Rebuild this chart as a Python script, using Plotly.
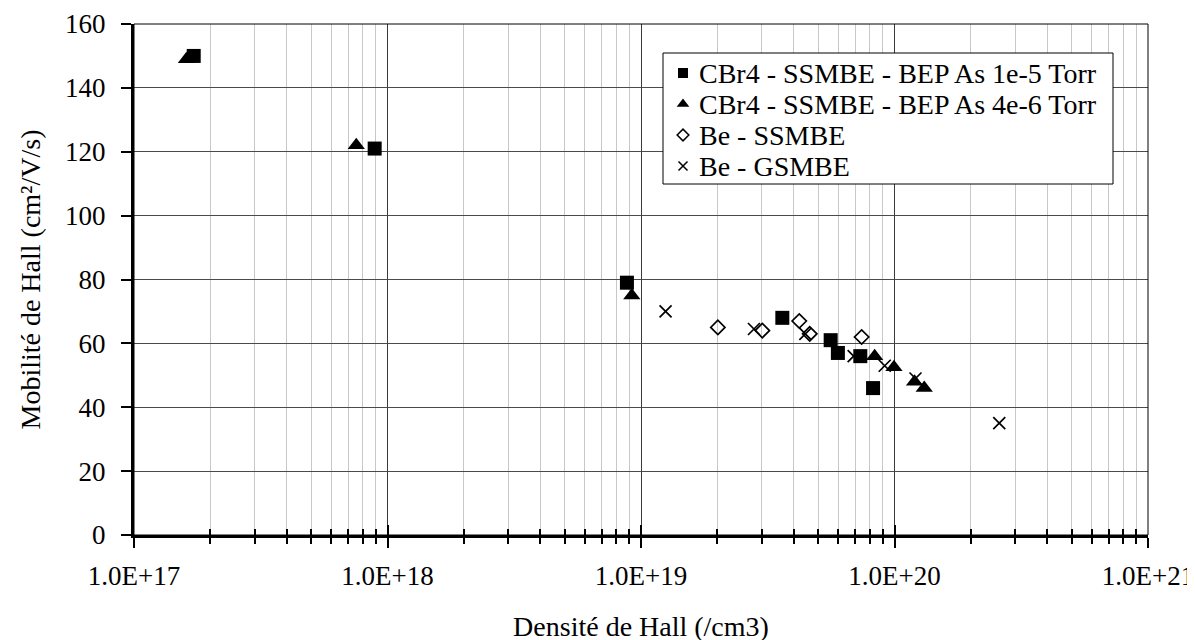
import plotly.graph_objects as go

# ---- data ----
sq_x = [1.72e17, 8.9e17, 8.8e18, 3.61e19, 5.6e19, 5.98e19, 7.33e19, 8.23e19]
sq_y = [150, 121, 79, 68, 61, 57, 56, 46]

tri_x = [1.61e17, 7.53e17, 9.2e18, 8.35e19, 9.95e19, 1.2e20, 1.31e20]
tri_y = [149, 122, 75, 56, 52.5, 48, 46]

dia_x = [2.01e19, 3.01e19, 4.21e19, 4.63e19, 7.42e19]
dia_y = [65, 64, 67, 63, 62]

x_x = [1.25e19, 2.79e19, 4.45e19, 6.9e19, 9.15e19, 1.21e20, 2.59e20]
x_y = [70, 64.5, 63, 56, 53, 49, 35]

names = ["CBr4 - SSMBE - BEP As 1e-5 Torr",
         "CBr4 - SSMBE - BEP As 4e-6 Torr",
         "Be - SSMBE",
         "Be - GSMBE"]

x_tickvals = [1e17, 1e18, 1e19, 1e20, 1e21]
x_ticktext = ["1.0E+17", "1.0E+18", "1.0E+19", "1.0E+20", "1.0E+21"]
y_tickvals = [0, 20, 40, 60, 80, 100, 120, 140, 160]

minor_vals = [float(m) * 10.0 ** e for e in range(17, 21) for m in range(2, 10)]

FONT = "Liberation Serif"
W, H = 1195, 640
L, R, T, B = 126, 55, 16, 113

fig = go.Figure()

symbols = ["square", "triangle-up", "diamond-open", "x-thin-open"]
plot_sizes = [14, 15, 11, 12]
legend_sizes = [10, 11, 9, 9]
datasets = [(sq_x, sq_y), (tri_x, tri_y), (dia_x, dia_y), (x_x, x_y)]


def marker(sym, size, lw):
    m = dict(symbol=sym, size=size, color="black")
    if sym.endswith("open"):
        m["line"] = dict(width=lw, color="black")
    return m


for (xs, ys), nm, sym, sz in zip(datasets, names, symbols, plot_sizes):
    fig.add_trace(go.Scatter(x=xs, y=ys, mode="markers", marker=marker(sym, sz, 1.7),
                             name=nm, showlegend=False, xaxis="x", yaxis="y"))

# ---- hand-drawn legend box (pixel-like auxiliary axes) ----
leg_left, leg_right, leg_top, leg_bottom = 655, 1105, 45, 176
row0, row_step = 65, 31
sym_x, text_x = 675, 689
rows = [row0 + row_step * i for i in range(len(names))]

for nm, sym, sz, ry in zip(names, symbols, legend_sizes, rows):
    fig.add_trace(go.Scatter(x=[sym_x], y=[ry], mode="markers",
                             marker=marker(sym, sz, 1.5), name=nm,
                             showlegend=False, hoverinfo="skip",
                             xaxis="x3", yaxis="y3"))

annotations = [dict(xref="x3", yref="y3", x=text_x, y=ry, text=nm,
                    xanchor="left", yanchor="middle", showarrow=False,
                    font=dict(family=FONT, size=28, color="black"))
               for nm, ry in zip(names, rows)]

shapes = [
    dict(type="rect", xref="paper", yref="paper", x0=0, y0=0, x1=1, y1=1,
         line=dict(color="black", width=1), layer="above"),
    dict(type="rect", xref="x3", yref="y3", x0=leg_left, x1=leg_right,
         y0=leg_top, y1=leg_bottom, fillcolor="white",
         line=dict(color="black", width=1), layer="below"),
]

fig.update_layout(
    width=W, height=H,
    margin=dict(l=L, r=R, t=T, b=B),
    paper_bgcolor="white", plot_bgcolor="rgba(0,0,0,0)",
    font=dict(family=FONT, size=27, color="black"),
    showlegend=False,
    xaxis=dict(
        type="log", range=[17, 21], automargin=False,
        tickmode="array", tickvals=x_tickvals, ticktext=x_ticktext,
        ticks="outside", ticklen=10, tickwidth=2, tickcolor="black",
        ticklabelstandoff=5,
        showline=True, linewidth=3, linecolor="black",
        showgrid=True, gridcolor="#3a3a3a", gridwidth=1,
        zeroline=False,
        minor=dict(tickmode="array", tickvals=minor_vals, ticks="outside",
                   ticklen=6, tickwidth=2, tickcolor="black",
                   showgrid=True, gridcolor="#c8c8c8", gridwidth=1),
        title=dict(text="Densité de Hall (/cm3)", font=dict(size=28), standoff=26),
        tickfont=dict(size=27),
    ),
    xaxis2=dict(
        type="log", range=[17, 21], overlaying="x", anchor="y", side="bottom",
        automargin=False,
        tickmode="array", tickvals=x_tickvals,
        ticks="inside", ticklen=10, tickwidth=2, tickcolor="black",
        showline=False, showgrid=False, zeroline=False, showticklabels=False,
        minor=dict(tickmode="array", tickvals=minor_vals, ticks="inside",
                   ticklen=6, tickwidth=2, tickcolor="black", showgrid=False),
    ),
    yaxis=dict(
        range=[0, 160], tickmode="array", tickvals=y_tickvals, automargin=False,
        ticks="outside", ticklen=10, tickwidth=2, tickcolor="black",
        ticklabelstandoff=10,
        showline=True, linewidth=3, linecolor="black",
        showgrid=True, gridcolor="#4a4a4a", gridwidth=1,
        zeroline=False,
        title=dict(text="Mobilité de Hall (cm²/V/s)", font=dict(size=28), standoff=17),
        tickfont=dict(size=27),
    ),
    xaxis3=dict(domain=[0, 1], range=[L, W - R], anchor="y3", visible=False,
                fixedrange=True, automargin=False),
    yaxis3=dict(domain=[0, 1], range=[H - B, T], anchor="x3", visible=False,
                fixedrange=True, automargin=False),
    shapes=shapes,
    annotations=annotations,
)

# dummy trace to activate xaxis2 (tick marks crossing the axis line)
fig.add_trace(go.Scatter(x=[None], y=[None], xaxis="x2", yaxis="y",
                         showlegend=False, hoverinfo="skip"))

fig.write_html("out.html")
